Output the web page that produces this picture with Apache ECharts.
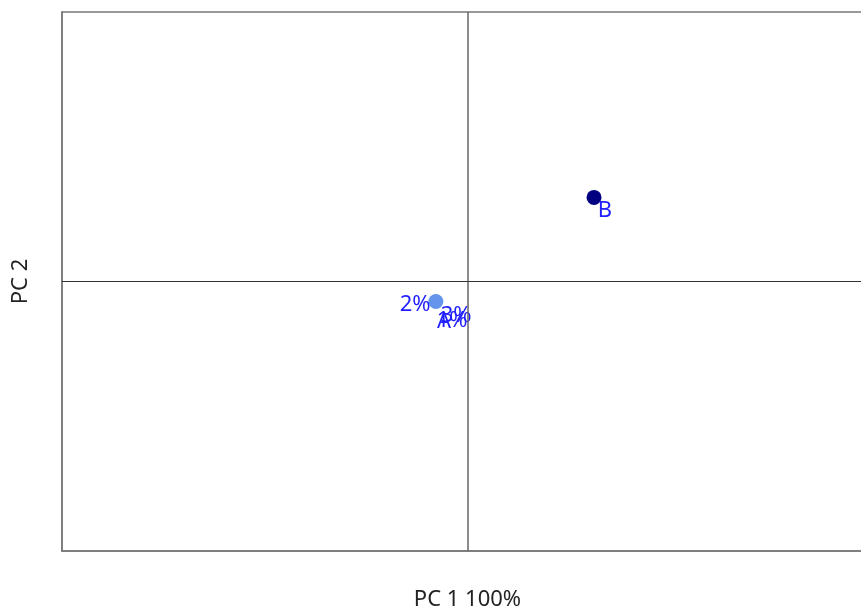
<!DOCTYPE html>
<html>
<head>
<meta charset="utf-8">
<title>PCA</title>
<script src="https://cdn.jsdelivr.net/npm/echarts@6/dist/echarts.min.js"></script>
</head>
<body style="margin:0;overflow:hidden">
<div id="container" style="width:890px;height:610px"></div>
<script>
// scores
var pointNames = ['A', 'B'];
var pointX = [-0.078, 0.312];
var pointY = [-0.074, 0.312];
var pointColors = ['#6495ED', '#000080'];

// text labels
var labelTexts = ['2%', '3%', '1%', 'A', 'B'];
var labelX = [-0.129, -0.028, -0.038, -0.058, 0.339];
var labelY = [-0.085, -0.126, -0.145, -0.148, 0.263];

var dom = document.getElementById('container');
var myChart = echarts.init(dom);

var pts = pointNames.map(function (n, i) {
    return { name: n, value: [pointX[i], pointY[i]], itemStyle: { color: pointColors[i] } };
});
var lbls = labelTexts.map(function (t, i) {
    return { name: t, value: [labelX[i], labelY[i]] };
});

var option = {
    animation: false,
    grid: {
        left: 62, top: 12, width: 811, height: 539,
        outerBoundsMode: 'none',
        show: true, borderColor: '#777', borderWidth: 1.5
    },
    xAxis: {
        type: 'value', min: -1, max: 1,
        name: 'PC 1 100%', nameLocation: 'middle', nameGap: 38,
        nameTextStyle: { fontSize: 22, color: '#222', fontFamily: 'Noto Sans' },
        axisLine: { onZero: false, lineStyle: { color: '#777', width: 1.5 } },
        axisTick: { show: false }, axisLabel: { show: false }, splitLine: { show: false }
    },
    yAxis: {
        type: 'value', min: -1, max: 1,
        name: 'PC 2', nameLocation: 'middle', nameGap: 30,
        nameTextStyle: { fontSize: 22, color: '#222', fontFamily: 'Noto Sans' },
        axisLine: { onZero: false, lineStyle: { color: '#777', width: 1.5 } },
        axisTick: { show: false }, axisLabel: { show: false }, splitLine: { show: false }
    },
    series: [
        {
            type: 'scatter',
            symbolSize: 15,
            itemStyle: { opacity: 1 },
            data: pts,
            markLine: {
                silent: true,
                symbol: 'none',
                label: { show: false },
                data: [
                    { xAxis: 0, lineStyle: { color: '#666', width: 1.5, type: 'solid' } },
                    { yAxis: 0, lineStyle: { color: '#333', width: 1, type: 'solid' } }
                ]
            }
        },
        {
            type: 'scatter',
            symbolSize: 0,
            itemStyle: { opacity: 1 },
            data: lbls,
            label: {
                show: true, position: 'inside', formatter: '{b}',
                color: '#1f1fff', fontSize: 22, fontFamily: 'Noto Sans'
            }
        }
    ]
};
myChart.setOption(option);
</script>
</body>
</html>
